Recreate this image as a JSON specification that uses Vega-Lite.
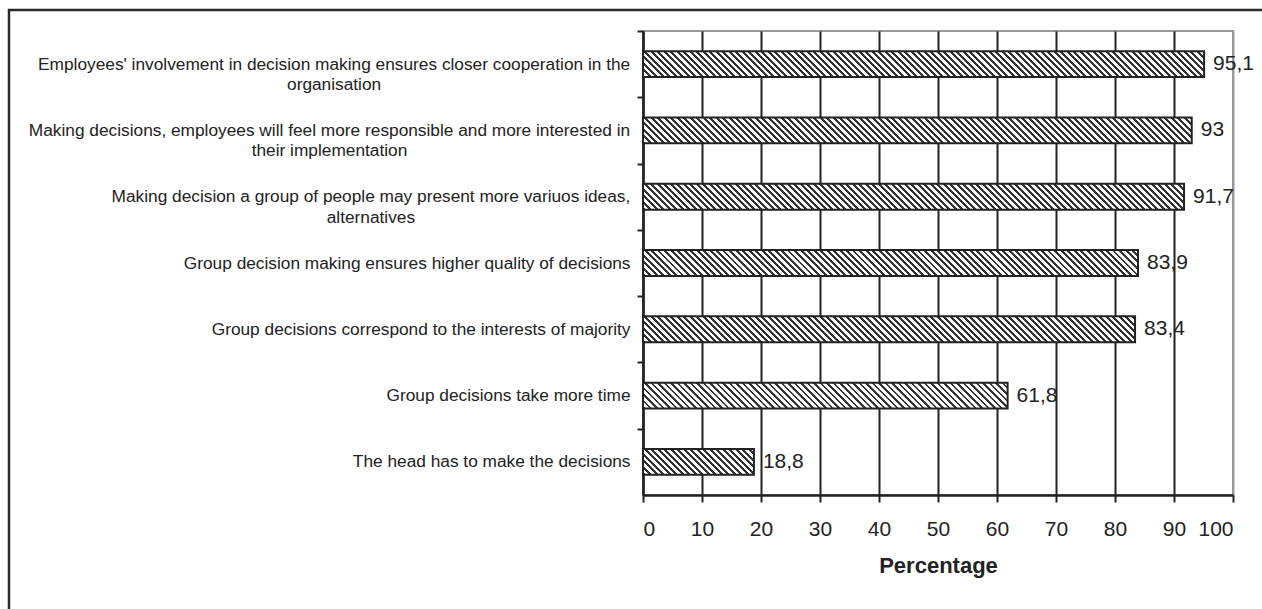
{
  "$schema": "https://vega.github.io/schema/vega-lite/v6.json",
  "width": 590,
  "height": 464,
  "autosize": {"type": "none"},
  "padding": {"left": 643, "top": 31, "right": 29, "bottom": 114},
  "background": "#ffffff",
  "params": [
    {
      "name": "hatchStops",
      "value": [
        {"offset":0,"color":"#333"},{"offset":0.00495,"color":"#333"},{"offset":0.00495,"color":"#fff"},{"offset":0.01099,"color":"#fff"},
        {"offset":0.01099,"color":"#333"},{"offset":0.01594,"color":"#333"},{"offset":0.01594,"color":"#fff"},{"offset":0.02198,"color":"#fff"},
        {"offset":0.02198,"color":"#333"},{"offset":0.02693,"color":"#333"},{"offset":0.02693,"color":"#fff"},{"offset":0.03297,"color":"#fff"},
        {"offset":0.03297,"color":"#333"},{"offset":0.03792,"color":"#333"},{"offset":0.03792,"color":"#fff"},{"offset":0.04396,"color":"#fff"},
        {"offset":0.04396,"color":"#333"},{"offset":0.04891,"color":"#333"},{"offset":0.04891,"color":"#fff"},{"offset":0.05495,"color":"#fff"},
        {"offset":0.05495,"color":"#333"},{"offset":0.05990,"color":"#333"},{"offset":0.05990,"color":"#fff"},{"offset":0.06593,"color":"#fff"},
        {"offset":0.06593,"color":"#333"},{"offset":0.07088,"color":"#333"},{"offset":0.07088,"color":"#fff"},{"offset":0.07692,"color":"#fff"},
        {"offset":0.07692,"color":"#333"},{"offset":0.08187,"color":"#333"},{"offset":0.08187,"color":"#fff"},{"offset":0.08791,"color":"#fff"},
        {"offset":0.08791,"color":"#333"},{"offset":0.09286,"color":"#333"},{"offset":0.09286,"color":"#fff"},{"offset":0.09890,"color":"#fff"},
        {"offset":0.09890,"color":"#333"},{"offset":0.10385,"color":"#333"},{"offset":0.10385,"color":"#fff"},{"offset":0.10989,"color":"#fff"},
        {"offset":0.10989,"color":"#333"},{"offset":0.11484,"color":"#333"},{"offset":0.11484,"color":"#fff"},{"offset":0.12088,"color":"#fff"},
        {"offset":0.12088,"color":"#333"},{"offset":0.12583,"color":"#333"},{"offset":0.12583,"color":"#fff"},{"offset":0.13187,"color":"#fff"},
        {"offset":0.13187,"color":"#333"},{"offset":0.13682,"color":"#333"},{"offset":0.13682,"color":"#fff"},{"offset":0.14286,"color":"#fff"},
        {"offset":0.14286,"color":"#333"},{"offset":0.14781,"color":"#333"},{"offset":0.14781,"color":"#fff"},{"offset":0.15385,"color":"#fff"},
        {"offset":0.15385,"color":"#333"},{"offset":0.15880,"color":"#333"},{"offset":0.15880,"color":"#fff"},{"offset":0.16484,"color":"#fff"},
        {"offset":0.16484,"color":"#333"},{"offset":0.16979,"color":"#333"},{"offset":0.16979,"color":"#fff"},{"offset":0.17582,"color":"#fff"},
        {"offset":0.17582,"color":"#333"},{"offset":0.18077,"color":"#333"},{"offset":0.18077,"color":"#fff"},{"offset":0.18681,"color":"#fff"},
        {"offset":0.18681,"color":"#333"},{"offset":0.19176,"color":"#333"},{"offset":0.19176,"color":"#fff"},{"offset":0.19780,"color":"#fff"},
        {"offset":0.19780,"color":"#333"},{"offset":0.20275,"color":"#333"},{"offset":0.20275,"color":"#fff"},{"offset":0.20879,"color":"#fff"},
        {"offset":0.20879,"color":"#333"},{"offset":0.21374,"color":"#333"},{"offset":0.21374,"color":"#fff"},{"offset":0.21978,"color":"#fff"},
        {"offset":0.21978,"color":"#333"},{"offset":0.22473,"color":"#333"},{"offset":0.22473,"color":"#fff"},{"offset":0.23077,"color":"#fff"},
        {"offset":0.23077,"color":"#333"},{"offset":0.23572,"color":"#333"},{"offset":0.23572,"color":"#fff"},{"offset":0.24176,"color":"#fff"},
        {"offset":0.24176,"color":"#333"},{"offset":0.24671,"color":"#333"},{"offset":0.24671,"color":"#fff"},{"offset":0.25275,"color":"#fff"},
        {"offset":0.25275,"color":"#333"},{"offset":0.25770,"color":"#333"},{"offset":0.25770,"color":"#fff"},{"offset":0.26374,"color":"#fff"},
        {"offset":0.26374,"color":"#333"},{"offset":0.26869,"color":"#333"},{"offset":0.26869,"color":"#fff"},{"offset":0.27473,"color":"#fff"},
        {"offset":0.27473,"color":"#333"},{"offset":0.27968,"color":"#333"},{"offset":0.27968,"color":"#fff"},{"offset":0.28571,"color":"#fff"},
        {"offset":0.28571,"color":"#333"},{"offset":0.29066,"color":"#333"},{"offset":0.29066,"color":"#fff"},{"offset":0.29670,"color":"#fff"},
        {"offset":0.29670,"color":"#333"},{"offset":0.30165,"color":"#333"},{"offset":0.30165,"color":"#fff"},{"offset":0.30769,"color":"#fff"},
        {"offset":0.30769,"color":"#333"},{"offset":0.31264,"color":"#333"},{"offset":0.31264,"color":"#fff"},{"offset":0.31868,"color":"#fff"},
        {"offset":0.31868,"color":"#333"},{"offset":0.32363,"color":"#333"},{"offset":0.32363,"color":"#fff"},{"offset":0.32967,"color":"#fff"},
        {"offset":0.32967,"color":"#333"},{"offset":0.33462,"color":"#333"},{"offset":0.33462,"color":"#fff"},{"offset":0.34066,"color":"#fff"},
        {"offset":0.34066,"color":"#333"},{"offset":0.34561,"color":"#333"},{"offset":0.34561,"color":"#fff"},{"offset":0.35165,"color":"#fff"},
        {"offset":0.35165,"color":"#333"},{"offset":0.35660,"color":"#333"},{"offset":0.35660,"color":"#fff"},{"offset":0.36264,"color":"#fff"},
        {"offset":0.36264,"color":"#333"},{"offset":0.36759,"color":"#333"},{"offset":0.36759,"color":"#fff"},{"offset":0.37363,"color":"#fff"},
        {"offset":0.37363,"color":"#333"},{"offset":0.37858,"color":"#333"},{"offset":0.37858,"color":"#fff"},{"offset":0.38462,"color":"#fff"},
        {"offset":0.38462,"color":"#333"},{"offset":0.38957,"color":"#333"},{"offset":0.38957,"color":"#fff"},{"offset":0.39560,"color":"#fff"},
        {"offset":0.39560,"color":"#333"},{"offset":0.40055,"color":"#333"},{"offset":0.40055,"color":"#fff"},{"offset":0.40659,"color":"#fff"},
        {"offset":0.40659,"color":"#333"},{"offset":0.41154,"color":"#333"},{"offset":0.41154,"color":"#fff"},{"offset":0.41758,"color":"#fff"},
        {"offset":0.41758,"color":"#333"},{"offset":0.42253,"color":"#333"},{"offset":0.42253,"color":"#fff"},{"offset":0.42857,"color":"#fff"},
        {"offset":0.42857,"color":"#333"},{"offset":0.43352,"color":"#333"},{"offset":0.43352,"color":"#fff"},{"offset":0.43956,"color":"#fff"},
        {"offset":0.43956,"color":"#333"},{"offset":0.44451,"color":"#333"},{"offset":0.44451,"color":"#fff"},{"offset":0.45055,"color":"#fff"},
        {"offset":0.45055,"color":"#333"},{"offset":0.45550,"color":"#333"},{"offset":0.45550,"color":"#fff"},{"offset":0.46154,"color":"#fff"},
        {"offset":0.46154,"color":"#333"},{"offset":0.46649,"color":"#333"},{"offset":0.46649,"color":"#fff"},{"offset":0.47253,"color":"#fff"},
        {"offset":0.47253,"color":"#333"},{"offset":0.47748,"color":"#333"},{"offset":0.47748,"color":"#fff"},{"offset":0.48352,"color":"#fff"},
        {"offset":0.48352,"color":"#333"},{"offset":0.48847,"color":"#333"},{"offset":0.48847,"color":"#fff"},{"offset":0.49451,"color":"#fff"},
        {"offset":0.49451,"color":"#333"},{"offset":0.49946,"color":"#333"},{"offset":0.49946,"color":"#fff"},{"offset":0.50549,"color":"#fff"},
        {"offset":0.50549,"color":"#333"},{"offset":0.51044,"color":"#333"},{"offset":0.51044,"color":"#fff"},{"offset":0.51648,"color":"#fff"},
        {"offset":0.51648,"color":"#333"},{"offset":0.52143,"color":"#333"},{"offset":0.52143,"color":"#fff"},{"offset":0.52747,"color":"#fff"},
        {"offset":0.52747,"color":"#333"},{"offset":0.53242,"color":"#333"},{"offset":0.53242,"color":"#fff"},{"offset":0.53846,"color":"#fff"},
        {"offset":0.53846,"color":"#333"},{"offset":0.54341,"color":"#333"},{"offset":0.54341,"color":"#fff"},{"offset":0.54945,"color":"#fff"},
        {"offset":0.54945,"color":"#333"},{"offset":0.55440,"color":"#333"},{"offset":0.55440,"color":"#fff"},{"offset":0.56044,"color":"#fff"},
        {"offset":0.56044,"color":"#333"},{"offset":0.56539,"color":"#333"},{"offset":0.56539,"color":"#fff"},{"offset":0.57143,"color":"#fff"},
        {"offset":0.57143,"color":"#333"},{"offset":0.57638,"color":"#333"},{"offset":0.57638,"color":"#fff"},{"offset":0.58242,"color":"#fff"},
        {"offset":0.58242,"color":"#333"},{"offset":0.58737,"color":"#333"},{"offset":0.58737,"color":"#fff"},{"offset":0.59341,"color":"#fff"},
        {"offset":0.59341,"color":"#333"},{"offset":0.59836,"color":"#333"},{"offset":0.59836,"color":"#fff"},{"offset":0.60440,"color":"#fff"},
        {"offset":0.60440,"color":"#333"},{"offset":0.60935,"color":"#333"},{"offset":0.60935,"color":"#fff"},{"offset":0.61538,"color":"#fff"},
        {"offset":0.61538,"color":"#333"},{"offset":0.62033,"color":"#333"},{"offset":0.62033,"color":"#fff"},{"offset":0.62637,"color":"#fff"},
        {"offset":0.62637,"color":"#333"},{"offset":0.63132,"color":"#333"},{"offset":0.63132,"color":"#fff"},{"offset":0.63736,"color":"#fff"},
        {"offset":0.63736,"color":"#333"},{"offset":0.64231,"color":"#333"},{"offset":0.64231,"color":"#fff"},{"offset":0.64835,"color":"#fff"},
        {"offset":0.64835,"color":"#333"},{"offset":0.65330,"color":"#333"},{"offset":0.65330,"color":"#fff"},{"offset":0.65934,"color":"#fff"},
        {"offset":0.65934,"color":"#333"},{"offset":0.66429,"color":"#333"},{"offset":0.66429,"color":"#fff"},{"offset":0.67033,"color":"#fff"},
        {"offset":0.67033,"color":"#333"},{"offset":0.67528,"color":"#333"},{"offset":0.67528,"color":"#fff"},{"offset":0.68132,"color":"#fff"},
        {"offset":0.68132,"color":"#333"},{"offset":0.68627,"color":"#333"},{"offset":0.68627,"color":"#fff"},{"offset":0.69231,"color":"#fff"},
        {"offset":0.69231,"color":"#333"},{"offset":0.69726,"color":"#333"},{"offset":0.69726,"color":"#fff"},{"offset":0.70330,"color":"#fff"},
        {"offset":0.70330,"color":"#333"},{"offset":0.70825,"color":"#333"},{"offset":0.70825,"color":"#fff"},{"offset":0.71429,"color":"#fff"},
        {"offset":0.71429,"color":"#333"},{"offset":0.71924,"color":"#333"},{"offset":0.71924,"color":"#fff"},{"offset":0.72527,"color":"#fff"},
        {"offset":0.72527,"color":"#333"},{"offset":0.73022,"color":"#333"},{"offset":0.73022,"color":"#fff"},{"offset":0.73626,"color":"#fff"},
        {"offset":0.73626,"color":"#333"},{"offset":0.74121,"color":"#333"},{"offset":0.74121,"color":"#fff"},{"offset":0.74725,"color":"#fff"},
        {"offset":0.74725,"color":"#333"},{"offset":0.75220,"color":"#333"},{"offset":0.75220,"color":"#fff"},{"offset":0.75824,"color":"#fff"},
        {"offset":0.75824,"color":"#333"},{"offset":0.76319,"color":"#333"},{"offset":0.76319,"color":"#fff"},{"offset":0.76923,"color":"#fff"},
        {"offset":0.76923,"color":"#333"},{"offset":0.77418,"color":"#333"},{"offset":0.77418,"color":"#fff"},{"offset":0.78022,"color":"#fff"},
        {"offset":0.78022,"color":"#333"},{"offset":0.78517,"color":"#333"},{"offset":0.78517,"color":"#fff"},{"offset":0.79121,"color":"#fff"},
        {"offset":0.79121,"color":"#333"},{"offset":0.79616,"color":"#333"},{"offset":0.79616,"color":"#fff"},{"offset":0.80220,"color":"#fff"},
        {"offset":0.80220,"color":"#333"},{"offset":0.80715,"color":"#333"},{"offset":0.80715,"color":"#fff"},{"offset":0.81319,"color":"#fff"},
        {"offset":0.81319,"color":"#333"},{"offset":0.81814,"color":"#333"},{"offset":0.81814,"color":"#fff"},{"offset":0.82418,"color":"#fff"},
        {"offset":0.82418,"color":"#333"},{"offset":0.82913,"color":"#333"},{"offset":0.82913,"color":"#fff"},{"offset":0.83516,"color":"#fff"},
        {"offset":0.83516,"color":"#333"},{"offset":0.84011,"color":"#333"},{"offset":0.84011,"color":"#fff"},{"offset":0.84615,"color":"#fff"},
        {"offset":0.84615,"color":"#333"},{"offset":0.85110,"color":"#333"},{"offset":0.85110,"color":"#fff"},{"offset":0.85714,"color":"#fff"},
        {"offset":0.85714,"color":"#333"},{"offset":0.86209,"color":"#333"},{"offset":0.86209,"color":"#fff"},{"offset":0.86813,"color":"#fff"},
        {"offset":0.86813,"color":"#333"},{"offset":0.87308,"color":"#333"},{"offset":0.87308,"color":"#fff"},{"offset":0.87912,"color":"#fff"},
        {"offset":0.87912,"color":"#333"},{"offset":0.88407,"color":"#333"},{"offset":0.88407,"color":"#fff"},{"offset":0.89011,"color":"#fff"},
        {"offset":0.89011,"color":"#333"},{"offset":0.89506,"color":"#333"},{"offset":0.89506,"color":"#fff"},{"offset":0.90110,"color":"#fff"},
        {"offset":0.90110,"color":"#333"},{"offset":0.90605,"color":"#333"},{"offset":0.90605,"color":"#fff"},{"offset":0.91209,"color":"#fff"},
        {"offset":0.91209,"color":"#333"},{"offset":0.91704,"color":"#333"},{"offset":0.91704,"color":"#fff"},{"offset":0.92308,"color":"#fff"},
        {"offset":0.92308,"color":"#333"},{"offset":0.92803,"color":"#333"},{"offset":0.92803,"color":"#fff"},{"offset":0.93407,"color":"#fff"},
        {"offset":0.93407,"color":"#333"},{"offset":0.93902,"color":"#333"},{"offset":0.93902,"color":"#fff"},{"offset":0.94505,"color":"#fff"},
        {"offset":0.94505,"color":"#333"},{"offset":0.95000,"color":"#333"},{"offset":0.95000,"color":"#fff"},{"offset":0.95604,"color":"#fff"},
        {"offset":0.95604,"color":"#333"},{"offset":0.96099,"color":"#333"},{"offset":0.96099,"color":"#fff"},{"offset":0.96703,"color":"#fff"},
        {"offset":0.96703,"color":"#333"},{"offset":0.97198,"color":"#333"},{"offset":0.97198,"color":"#fff"},{"offset":0.97802,"color":"#fff"},
        {"offset":0.97802,"color":"#333"},{"offset":0.98297,"color":"#333"},{"offset":0.98297,"color":"#fff"},{"offset":0.98901,"color":"#fff"},
        {"offset":0.98901,"color":"#333"},{"offset":0.99396,"color":"#333"},{"offset":0.99396,"color":"#fff"},{"offset":1,"color":"#fff"}
      ]
    }
  ],
  "data": {
    "values": [
      {"statement": "Employees' involvement in decision making ensures closer cooperation in the\norganisation", "value": 95.1},
      {"statement": "Making decisions, employees will feel more responsible and more interested in\ntheir implementation", "value": 93},
      {"statement": "Making decision a group of people may present more variuos ideas,\nalternatives", "value": 91.7},
      {"statement": "Group decision making ensures higher quality of decisions", "value": 83.9},
      {"statement": "Group decisions correspond to the interests of majority", "value": 83.4},
      {"statement": "Group decisions take more time", "value": 61.8},
      {"statement": "The head has to make the decisions", "value": 18.8}
    ]
  },
  "encoding": {
    "y": {
      "field": "statement",
      "type": "nominal",
      "sort": null,
      "scale": {"paddingInner": 0.61, "paddingOuter": 0.305},
      "axis": {
        "title": null,
        "tickSize": 6,
        "tickOffset": -33.14,
        "labelOffset": 33.14,
        "labelFontSize": 17.3,
        "labelLineHeight": 20.5,
        "labelLimit": 0,
        "labelExpr": "split(datum.value, '\\n')",
        "labelAlign": {
          "condition": {"test": "indexof(datum.value, '\\n') >= 0", "value": "center"},
          "value": "right"
        },
        "labelPadding": {
          "condition": [
            {"test": "indexof(datum.value, 'Employees') === 0", "value": 303.4},
            {"test": "indexof(datum.value, 'Making decisions') === 0", "value": 308},
            {"test": "indexof(datum.value, 'Making decision a') === 0", "value": 266.6}
          ],
          "value": 7
        }
      }
    }
  },
  "layer": [
    {
      "mark": {"type": "bar", "stroke": "#222", "strokeWidth": 2},
      "encoding": {
        "x": {
          "field": "value",
          "type": "quantitative",
          "scale": {"domain": [0, 100], "nice": false},
          "axis": {
            "title": "Percentage",
            "values": [0, 10, 20, 30, 40, 50, 60, 70, 80, 90, 100],
            "grid": true,
            "gridColor": {
              "condition": {"test": "datum.value === 100", "value": "#999"},
              "value": "#222"
            },
            "gridWidth": 2,
            "tickSize": 7,
            "labelFontSize": 21,
            "labelPadding": 16,
            "titleFontSize": 22,
            "titleFontWeight": "bold",
            "titlePadding": 16
          }
        },
        "fill": {
          "value": {
            "expr": "{gradient: 'linear', x1: 0, y1: 1, x2: 591.5 * scale('x', datum.value) / (pow(scale('x', datum.value), 2) + pow(bandwidth('y'), 2)), y2: 1 - 591.5 * bandwidth('y') / (pow(scale('x', datum.value), 2) + pow(bandwidth('y'), 2)), stops: hatchStops}"
          }
        }
      }
    },
    {
      "mark": {"type": "text", "align": "left", "baseline": "middle", "dx": 9, "fontSize": 21, "color": "#222"},
      "encoding": {
        "x": {"field": "value", "type": "quantitative"},
        "text": {"field": "value", "type": "quantitative", "format": ".1~f"}
      }
    },
    {
      "data": {"values": [{}]},
      "mark": {"type": "rect", "fill": null, "stroke": "#2a2a2a", "strokeWidth": 2.5},
      "encoding": {
        "x": {"value": -634},
        "x2": {"value": 700},
        "y": {"value": -21},
        "y2": {"value": 700}
      }
    }
  ],
  "config": {
    "font": "Liberation Sans",
    "locale": {
      "number": {"decimal": ",", "thousands": ".", "grouping": [3], "currency": ["", " €"]}
    },
    "view": {"stroke": "#999", "strokeWidth": 2},
    "axis": {
      "domainColor": "#222",
      "domainWidth": 2.5,
      "tickColor": "#222",
      "tickWidth": 2,
      "labelColor": "#222",
      "titleColor": "#222",
      "labelFont": "Liberation Sans",
      "titleFont": "Liberation Sans"
    }
  }
}
